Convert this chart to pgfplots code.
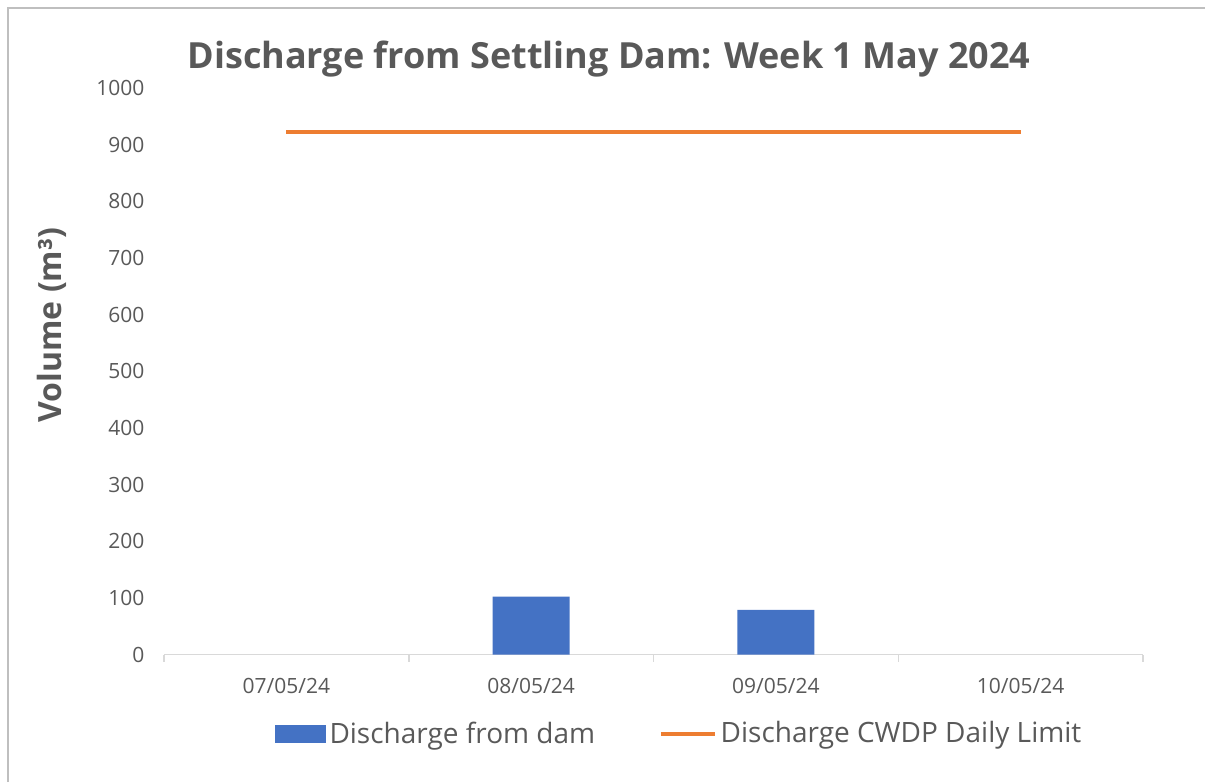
\documentclass[border=0pt]{standalone}
\usepackage{pgfplots}
\pgfplotsset{compat=1.18}
\usepackage{fontspec}
\setmainfont{Open Sans}
\definecolor{txt}{HTML}{595959}
\definecolor{barblue}{HTML}{4472C4}
\definecolor{lineor}{HTML}{ED7D31}
\definecolor{axgrey}{HTML}{D9D9D9}
\definecolor{frame}{HTML}{BFBFBF}
\begin{document}
\begin{tikzpicture}[x=1bp,y=1bp]
\path[use as bounding box] (0,0) rectangle (602.5,391);
\draw[frame, line width=0.75bp] (4,0) -- (4,387) -- (602.5,387);
\node[anchor=base, text=txt, font=\fontsize{18bp}{20bp}\selectfont\bfseries] at (304.5,357) {Discharge from Settling Dam: Week 1 May 2024};
\node[rotate=90, text=txt, font=\fontsize{16bp}{18bp}\selectfont\bfseries] at (26,228.5) {Volume (m³)};
\begin{axis}[
  at={(82bp,63.75bp)}, anchor=south west,
  scale only axis, width=489.5bp, height=283.25bp,
  xmin=-0.5, xmax=3.5, ymin=0, ymax=1000,
  ytick distance=100,
  xtick={0,1,2,3},
  xticklabels={07/05/24,08/05/24,09/05/24,10/05/24},
  minor xtick={-0.5,0.5,1.5,2.5,3.5},
  major x tick style={draw=none},
  minor x tick style={axgrey, line width=0.75bp},
  minor tick length=3.5bp,
  tick align=outside,
  axis x line*=bottom, axis y line*=left,
  x axis line style={axgrey, line width=0.75bp},
  y axis line style={draw=none},
  ytick style={draw=none},
  tick label style={text=txt, font=\fontsize{10.5bp}{12bp}\selectfont},
  /pgf/number format/assume math mode=true,
  /pgf/number format/1000 sep={},
  xticklabel style={yshift=-4bp},
  yticklabel style={xshift=-2bp},
  legend columns=2,
  legend style={at={(0.527,-0.140)}, anchor=center, draw=none, fill=none,
    text=txt, font=\fontsize{14bp}{16bp}\selectfont,
    /tikz/every even column/.append style={column sep=30bp}},
]
\addplot[ybar, bar width=38.5bp, fill=barblue, draw=none,
  legend image code/.code={\fill[barblue] (0bp,-4.5bp) rectangle (25.5bp,4.5bp);}]
  coordinates {(1,102) (2,79)};
\addlegendentry{Discharge from dam}
\addplot[lineor, line width=1.7bp,
  legend image code/.code={\draw[lineor, line width=1.7bp] (0bp,0bp) -- (27bp,0bp);}]
  coordinates {(0,922) (1,922) (2,922) (3,922)};
\addlegendentry{Discharge CWDP Daily Limit}
\end{axis}
\end{tikzpicture}
\end{document}
